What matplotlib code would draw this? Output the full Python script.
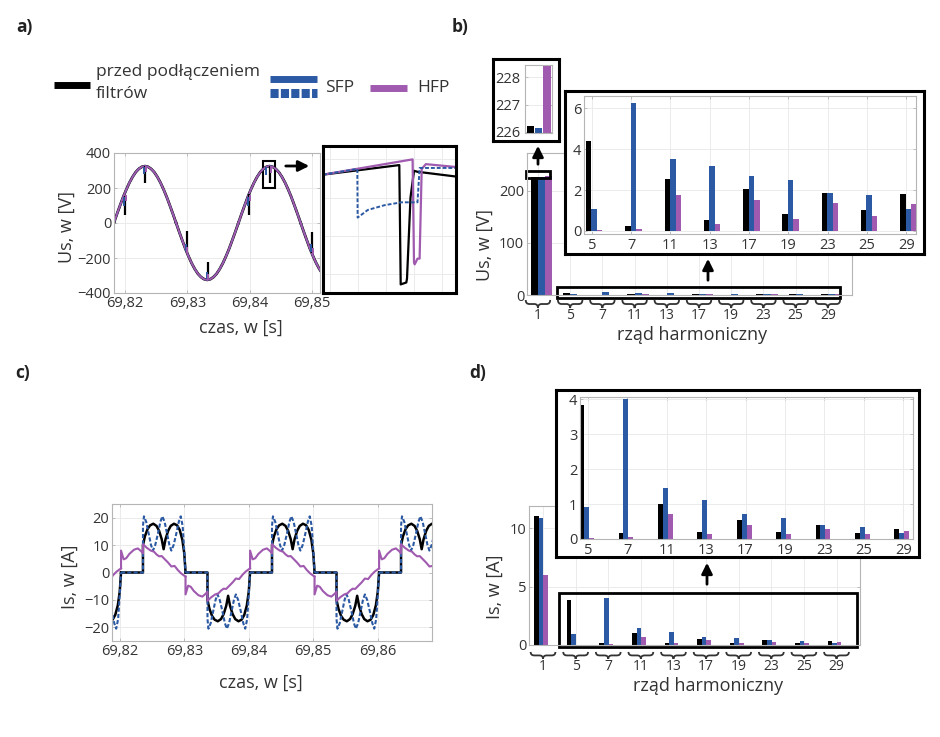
import numpy as np
import matplotlib.pyplot as plt
from matplotlib.patches import Rectangle, PathPatch, FancyArrowPatch
from matplotlib.path import Path
from matplotlib.lines import Line2D

plt.rcParams['font.family'] = ['Open Sans', 'DejaVu Sans']

W, H = 940, 737
BLACK = '#000000'
BLUE = '#2b59a3'
PURPLE = '#a05aaf'
GRID = '#ebebeb'
SPINE = '#b5b5b5'
TXT = '#333333'

# ---------------- panel a: supply voltage ----------------
# one positive half-cycle, ms from the zero crossing
va_half_t = [0, 0.5, 1, 1.5, 2, 2.5, 3, 3.5, 4, 4.5, 5, 5.5, 6, 6.5, 7, 7.5, 8, 8.5, 9, 9.5, 10]
va_half_v = [0, 51, 100, 148, 191, 230, 263, 290, 309, 321, 325, 321, 309, 290, 263, 230, 191, 148, 100, 51, 0]
va_zero_t = [8.2, 18.2, 28.2, 38.2, 48.2]     # ms after 69.8 s
va_zero_sign = [-1, 1, -1, 1, -1]

# commutation notches: time [ms], start value, end value
notch_pre_t = [20.0, 23.2, 29.9, 33.3, 39.9, 43.2, 50.0]
notch_pre_v0 = [157, 325, -165, -325, 165, 325, -174]
notch_pre_v1 = [47, 229, -47, -221, 47, 231, -50]
notch_sfp_t = [19.9, 23.0, 29.8, 33.1, 39.8, 42.6, 49.9]
notch_sfp_v0 = [150, 322, -160, -322, 150, 320, -165]
notch_sfp_v1 = [100, 282, -118, -282, 100, 272, -122]
notch_hfp_t = [20.1, 23.3, 30.0, 33.4, 40.0, 43.4, 50.1]
notch_hfp_v0 = [160, 325, -170, -325, 160, 325, -178]
notch_hfp_v1 = [125, 290, -135, -290, 125, 285, -140]

# zoom of the notch near 69,843 s
zoom_pre_t = [42.10, 43.19, 43.21, 43.29, 43.30, 43.35, 43.40, 43.45, 44.00]
zoom_pre_v = [324, 334, 209, 211, 215, 300, 328, 327, 322]
zoom_sfp_t = [42.10, 42.59, 42.595, 42.74, 42.98, 43.22, 43.45, 43.48, 44.00]
zoom_sfp_v = [324, 330, 279, 287, 292, 295, 295, 331, 331]
zoom_hfp_t = [42.10, 43.38, 43.40, 43.41, 43.45, 43.48, 43.51, 43.57, 44.00]
zoom_hfp_v = [324, 340, 232, 230, 236, 236, 330, 335, 332]

a_ticks = [20, 30, 40, 50]
a_ticklabels = ['69,82', '69,83', '69,84', '69,85']

# ---------------- panel c: supply current ----------------
# one positive half-period, ms from the end of the negative pulse
ic_pre_t = [0, 3.4, 3.4, 3.7, 4.1, 4.5, 5.0, 5.5, 5.9, 6.3, 6.6, 6.9, 7.3, 7.7, 8.2, 8.7, 9.1, 9.5, 9.8, 10.0]
ic_pre_i = [0, 0, 10, 13.2, 15.8, 17.2, 17.8, 17.0, 15.2, 12.2, 8.5, 12.2, 15.2, 17.0, 17.8, 17.2, 15.5, 12, 7, 0]
ic_sfp_t = [0, 3.4, 3.4, 3.55, 3.9, 4.3, 4.65, 4.95, 5.3, 5.7, 6.1, 6.4, 6.75, 7.15, 7.5, 7.8, 8.15,
            8.55, 8.95, 9.25, 9.55, 9.8, 10.0]
ic_sfp_i = [0, 0, 17, 20.5, 18.5, 14, 10, 8, 10, 14, 18.5, 20.5, 18.5, 14, 10, 8, 10,
            14, 18.5, 20.5, 17, 8, 0]
ic_hfp_t = [0, 0, 0.4, 0.8, 1.3, 2.0, 2.6, 3.1, 3.4, 3.4, 4.0, 4.6, 5.1, 5.5, 5.9, 6.3, 6.8,
            7.3, 7.8, 8.3, 8.8, 9.3, 9.7, 10.0]
ic_hfp_i = [1.5, 8.0, 4.8, 5.2, 6.8, 8.3, 8.8, 7.8, 7.0, 10.3, 9.0, 8.0, 7.6, 6.6, 5.9, 6.0, 4.8,
            3.6, 2.2, 2.4, 0.9, -0.3, -1.0, -1.5]
ic_start_t = [10.2, 20.2, 30.2, 40.2, 50.2, 60.2]
ic_sign = [-1, 1, -1, 1, -1, 1]

c_ticks = [20, 30, 40, 50, 60]
c_ticklabels = ['69,82', '69,83', '69,84', '69,85', '69,86']

# ---------------- panels b, d: harmonic spectra ----------------
harm = ['1', '5', '7', '11', '13', '17', '19', '23', '25', '29']
us_pre = [226.2, 4.42, 0.26, 2.53, 0.53, 2.04, 0.83, 1.86, 1.00, 1.80]
us_sfp = [226.15, 1.05, 6.26, 3.53, 3.19, 2.71, 2.50, 1.86, 1.75, 1.09]
us_hfp = [228.4, 0.03, 0.10, 1.75, 0.36, 1.52, 0.58, 1.39, 0.73, 1.33]
is_pre = [11.08, 3.82, 0.16, 1.01, 0.19, 0.55, 0.21, 0.39, 0.18, 0.30]
is_sfp = [10.88, 0.91, 4.00, 1.45, 1.11, 0.72, 0.60, 0.39, 0.34, 0.17]
is_hfp = [5.97, 0.02, 0.07, 0.72, 0.14, 0.41, 0.15, 0.29, 0.15, 0.22]


def box(l, t, r, b):
    # pixel box (left, top, right, bottom) -> figure fraction rect
    return [l / W, 1 - b / H, (r - l) / W, (b - t) / H]


def style(ax, size=10.5):
    ax.set_facecolor('white')
    for s in ax.spines.values():
        s.set_color(SPINE)
        s.set_linewidth(0.8)
    ax.grid(True, color=GRID, lw=0.7)
    ax.set_axisbelow(True)
    ax.tick_params(colors=TXT, labelsize=size, length=2.5, width=0.6, direction='in',
                   top=True, right=True, pad=2)
    ax.tick_params(axis='both', color=SPINE)


def frame(rect, z=2):
    f = fig.add_axes(rect, zorder=z)
    f.set_xticks([])
    f.set_yticks([])
    for s in f.spines.values():
        s.set_linewidth(2.2)
        s.set_color('black')
    return f


def brace(ax, xc, hw, ytop, ybot):
    ym = (ytop + ybot) / 2
    a = hw * 0.3
    verts = [(xc - hw, ytop), (xc - hw, ym), (xc - hw + a, ym), (xc - a, ym), (xc, ym), (xc, ybot),
             (xc, ym), (xc + a, ym), (xc + hw - a, ym), (xc + hw, ym), (xc + hw, ytop)]
    codes = [Path.MOVETO, Path.CURVE3, Path.CURVE3, Path.LINETO, Path.CURVE3, Path.CURVE3,
             Path.CURVE3, Path.CURVE3, Path.LINETO, Path.CURVE3, Path.CURVE3]
    ax.add_patch(PathPatch(Path(verts, codes), transform=ax.get_xaxis_transform(), fill=False,
                           lw=1.3, color=TXT, clip_on=False))


def arrow(x0, y0, x1, y1):
    fig.add_artist(FancyArrowPatch((x0 / W, 1 - y0 / H), (x1 / W, 1 - y1 / H),
                                   transform=fig.transFigure, arrowstyle='-|>',
                                   mutation_scale=16, lw=2, color='black', zorder=10))


def label(px, py, s, **kw):
    fig.text(px / W, 1 - py / H, s, ha='center', va='center', color=TXT, **kw)


fig = plt.figure(figsize=(9.4, 7.37), dpi=100)

# ---------------- a) ----------------
ax = fig.add_axes(box(114, 153, 320, 293), zorder=1)
style(ax)
vt = np.array(va_half_t)
vv = np.array(va_half_v)
for t0, s in zip(va_zero_t, va_zero_sign):
    ax.plot(t0 + vt, s * vv, color=BLACK, lw=2.0)
for t0, s in zip(va_zero_t, va_zero_sign):
    ax.plot(t0 + vt, s * vv, color=BLUE, lw=1.3, ls=(0, (3, 1.5)))
for t0, s in zip(va_zero_t, va_zero_sign):
    ax.plot(t0 + vt, s * vv, color=PURPLE, lw=1.4)
ax.vlines(notch_pre_t, notch_pre_v0, notch_pre_v1, color=BLACK, lw=1.6)
ax.vlines(notch_sfp_t, notch_sfp_v0, notch_sfp_v1, color=BLUE, lw=1.4)
ax.vlines(notch_hfp_t, notch_hfp_v0, notch_hfp_v1, color=PURPLE, lw=1.4)
ax.add_patch(Rectangle((42.15, 200), 1.93, 154, fill=False, lw=1.5, ec='black', clip_on=False))
ax.set_xlim(18.23, 51.3)
ax.set_ylim(-400, 400)
ax.set_xticks(a_ticks, a_ticklabels)
ax.set_yticks([-400, -200, 0, 200, 400])
arrow(283, 166, 312, 166)

axz = fig.add_axes(box(323, 146, 456, 293), zorder=2)
axz.plot(zoom_pre_t, zoom_pre_v, color=BLACK, lw=1.6)
axz.plot(zoom_hfp_t, zoom_hfp_v, color=PURPLE, lw=1.6)
axz.plot(zoom_sfp_t, zoom_sfp_v, color=BLUE, lw=1.4, ls=(0, (2, 1)))
axz.set_xlim(42.1, 44.0)
axz.set_ylim(200, 354)
axz.set_xticks(np.arange(42.2, 44.0, 0.4))
axz.set_yticks(np.arange(220, 354, 40))
axz.tick_params(labelbottom=False, labelleft=False, length=0)
axz.grid(True, color=GRID, lw=0.7)
for s in axz.spines.values():
    s.set_linewidth(2.2)

# legend
fig.add_artist(Line2D([54 / W, 90 / W], [1 - 84.5 / H] * 2, lw=5, color=BLACK, solid_capstyle='butt'))
fig.text(96 / W, 1 - 72 / H, 'przed podłączeniem', ha='left', va='center', size=12.5, color=TXT)
fig.text(96 / W, 1 - 94 / H, 'filtrów', ha='left', va='center', size=12.5, color=TXT)
fig.add_artist(Line2D([270 / W, 317 / W], [1 - 78.5 / H] * 2, lw=5, color=BLUE, solid_capstyle='butt'))
fig.add_artist(Line2D([270 / W, 317 / W], [1 - 93 / H] * 2, lw=6.5, color=BLUE,
                      ls=(0, (0.9, 0.25)), dash_capstyle='butt'))
fig.text(325 / W, 1 - 88 / H, 'SFP', ha='left', va='center', size=12.5, color=TXT)
fig.add_artist(Line2D([370 / W, 407 / W], [1 - 87.5 / H] * 2, lw=5, color=PURPLE, solid_capstyle='butt'))
fig.text(417 / W, 1 - 88 / H, 'HFP', ha='left', va='center', size=12.5, color=TXT)

label(67, 227, 'Us, w [V]', size=13, rotation=90)
label(241, 328, 'czas, w [s]', size=13)

# ---------------- c) ----------------
ax = fig.add_axes(box(112, 504, 432, 641), zorder=1)
style(ax)
for t_half, i_half, col, lw, ls in [(ic_pre_t, ic_pre_i, BLACK, 1.8, '-'),
                                    (ic_sfp_t, ic_sfp_i, BLUE, 1.5, (0, (2, 1))),
                                    (ic_hfp_t, ic_hfp_i, PURPLE, 1.5, '-')]:
    for t0, s in zip(ic_start_t, ic_sign):
        ax.plot(t0 + np.array(t_half), s * np.array(i_half), color=col, lw=lw, ls=ls)
ax.set_xlim(18.8, 68.4)
ax.set_ylim(-25, 25)
ax.set_xticks(c_ticks, c_ticklabels)
ax.set_yticks([-20, -10, 0, 10, 20])
label(70, 577, 'Is, w [A]', size=13, rotation=90)
label(261, 683, 'czas, w [s]', size=13)

# ---------------- b) and d) ----------------
x = np.arange(len(harm))
xs = np.arange(len(harm) - 1)


def spectrum(main_px, ylim, yticks, offs, bw, pad, br, arrow_px, rect_xy, rect_wh,
             ins_frame, ins_px, ins_ylim, ins_yticks, ins_offs, ins_bw, pre, sfp, hfp):
    ax = fig.add_axes(box(*main_px), zorder=1)
    style(ax)
    for vals, col, o in zip([pre, sfp, hfp], [BLACK, BLUE, PURPLE], offs):
        ax.bar(x + o, vals, bw, color=col, lw=0)
    ax.set_xlim(*ylim[0])
    ax.set_ylim(*ylim[1])
    ax.set_xticks(x, harm)
    ax.set_yticks(yticks)
    ax.tick_params(axis='x', length=0, pad=pad, labelsize=10)
    for xi in x:
        brace(ax, xi, 0.38, br[0], br[1])
    ax.add_patch(Rectangle(rect_xy, rect_wh[0], rect_wh[1], fill=False, lw=2, ec='black', clip_on=False))
    arrow(*arrow_px)

    frame(box(*ins_frame))
    ai = fig.add_axes(box(*ins_px), zorder=3)
    style(ai)
    for vals, col, o in zip([pre, sfp, hfp], [BLACK, BLUE, PURPLE], ins_offs):
        ai.bar(xs + o, vals[1:], ins_bw, color=col, lw=0)
    ai.set_xlim(-0.2, 8.25)
    ai.set_ylim(*ins_ylim)
    ai.set_xticks(xs, harm[1:])
    ai.set_yticks(ins_yticks)
    ai.tick_params(axis='x', pad=3)
    return ax


ax_b = spectrum((527, 153, 852, 295), ((-0.34, 9.75), (0, 273)), [0, 100, 200],
                [-0.11, 0.11, 0.33], 0.22, 9, (-0.035, -0.092), (708, 283, 708, 256),
                (0.59, -5.8), (8.79, 21.2), (565, 91, 924, 254), (584, 96, 916, 234),
                (-0.15, 6.6), [0, 2, 4, 6], [-0.08, 0.06, 0.2], 0.14, us_pre, us_sfp, us_hfp)
ax_b.add_patch(Rectangle((-0.37, 224), 0.74, 14, fill=False, lw=2, ec='black', clip_on=False))
arrow(538, 167, 538, 143)

frame(box(493, 59, 559, 141))
ai = fig.add_axes(box(525, 65, 552, 133), zorder=3)
style(ai)
for v, col, o in zip([us_pre[0], us_sfp[0], us_hfp[0]], [BLACK, BLUE, PURPLE], [-0.22, 0, 0.22]):
    ai.bar([o], [v], 0.2, color=col, lw=0)
ai.set_xlim(-0.36, 0.36)
ai.set_ylim(225.96, 228.45)
ai.set_yticks([226, 227, 228])
ai.set_xticks([])
ai.tick_params(axis='y', pad=3)

label(485, 245, 'Us, w [V]', size=13, rotation=90)
label(692, 335, 'rząd harmoniczny', size=13)

spectrum((529, 506, 860, 645), ((-0.43, 9.72), (0, 11.9)), [0, 5, 10],
         [-0.2, -0.06, 0.08], 0.14, 10, (-0.05, -0.1), (707, 587, 707, 560),
         (0.49, -0.17), (9.14, 4.61), (556, 390, 919, 557), (580, 397, 913, 539),
         (0, 4.06), [0, 1, 2, 3, 4], [-0.16, -0.035, 0.09], 0.125, is_pre, is_sfp, is_hfp)
label(495, 587, 'Is, w [A]', size=13, rotation=90)
label(708, 686, 'rząd harmoniczny', size=13)

# panel letters
for px, py, s in [(24, 27, 'a)'), (460, 27, 'b)'), (23, 373, 'c)'), (478, 373, 'd)')]:
    fig.text(px / W, 1 - py / H, s, ha='center', va='center', size=12.5, weight='bold', color='#222222')

fig.savefig('out.png', dpi=100)
